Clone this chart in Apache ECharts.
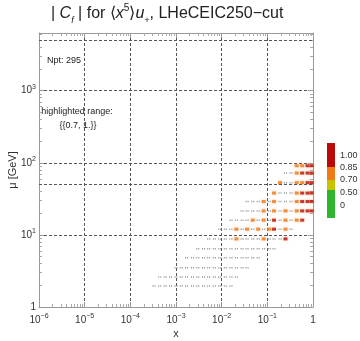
<!DOCTYPE html>
<html>
<head>
<meta charset="utf-8">
<script src="https://cdn.jsdelivr.net/npm/echarts@6/dist/echarts.min.js"></script>
<style>
  html, body { margin: 0; padding: 0; background: #fff; }
  #chart { width: 360px; height: 341px; }
</style>
</head>
<body>
<div id="chart"></div>
<script>
// x bins (one per column of points)
var xBins = [0.00033, 0.00044, 0.00058, 0.00076, 0.0010, 0.0013, 0.0017, 0.0023, 0.0030, 0.0040,
             0.0052, 0.0069, 0.0091, 0.012, 0.016, 0.021, 0.028, 0.036, 0.048, 0.063,
             0.083, 0.11, 0.14, 0.19, 0.25, 0.33, 0.44, 0.58, 0.76, 0.93];
// mu of every row (GeV), top to bottom
var muRows = [91, 72, 53, 38, 29, 21.5, 16, 12, 8.8, 6.4, 4.8, 3.5, 2.6, 1.96];
// first x bin of every row
var rowStart = [26, 24, 23, 22, 17, 16, 14, 12, 10, 8, 6, 4, 1, 0];
// |C_f| of the points in every row
var rowCf = [
  [0.78, 0.84, 0.92, 0.96],
  [0.40, 0.55, 0.76, 0.86, 0.93, 0.97],
  [0.72, 0.45, 0.60, 0.78, 0.83, 0.91, 0.96],
  [0.74, 0.50, 0.40, 0.60, 0.80, 0.88, 0.93, 0.97],
  [0.30, 0.40, 0.50, 0.75, 0.45, 0.78, 0.50, 0.55, 0.62, 0.80, 0.89, 0.94, 0.97],
  [0.30, 0.35, 0.45, 0.50, 0.74, 0.50, 0.79, 0.55, 0.82, 0.60, 0.81, 0.90, 0.93, 0.96],
  [0.30, 0.40, 0.45, 0.50, 0.76, 0.50, 0.79, 0.55, 0.88, 0.60, 0.80, 0.60, 0.82, 0.90],
  [0.30, 0.40, 0.50, 0.74, 0.50, 0.78, 0.55, 0.80, 0.60, 0.80, 0.88, 0.60, 0.79, 0.50],
  [0.30, 0.35, 0.40, 0.45, 0.50, 0.73, 0.50, 0.55, 0.60, 0.50, 0.77, 0.55, 0.60, 0.50, 0.87],
  [0.20, 0.25, 0.30, 0.30, 0.35, 0.40, 0.40, 0.45, 0.50, 0.50, 0.55, 0.60, 0.55, 0.60, 0.50],
  [0.20, 0.20, 0.25, 0.30, 0.30, 0.35, 0.40, 0.40, 0.45, 0.50, 0.50, 0.55, 0.50, 0.45],
  [0.15, 0.20, 0.20, 0.25, 0.30, 0.30, 0.35, 0.40, 0.40, 0.45, 0.50, 0.45, 0.40, 0.35],
  [0.10, 0.15, 0.20, 0.20, 0.25, 0.30, 0.30, 0.35, 0.40, 0.40, 0.45, 0.40, 0.35, 0.30, 0.25],
  [0.10, 0.10, 0.15, 0.20, 0.20, 0.25, 0.30, 0.30, 0.35, 0.35, 0.40, 0.35, 0.30, 0.25, 0.20]
];
var hiRange = [0.7, 1.0];
var cutLevels = [0, 0.5, 0.7, 0.85, 1.0];
var cutLabels = ['0', '0.50', '0.70', '0.85', '1.00'];
var cutColors = ['#2db52d', '#c9c200', '#ee7a1a', '#bb0a0a'];
var extraMu = [50, 5000];

var FONT = 'Liberation Sans';

var grayPts = [], hiPts = [];
for (var r = 0; r < muRows.length; r++) {
  for (var k = 0; k < rowCf[r].length; k++) {
    var p = [xBins[rowStart[r] + k], muRows[r], rowCf[r][k]];
    if (p[2] >= hiRange[0] && p[2] <= hiRange[1]) hiPts.push(p); else grayPts.push(p);
  }
}

function cfColor(v) {
  for (var i = cutColors.length - 1; i >= 0; i--) {
    if (v >= cutLevels[i]) return cutColors[i];
  }
  return cutColors[0];
}

function powLabel(v) {
  var e = Math.round(Math.log(v) / Math.LN10);
  if (Math.abs(Math.log(v) / Math.LN10 - e) > 1e-6) return '';
  if (e === 0) return '{b|1}';
  return '{b|10}{s|' + String(e).replace('-', '\u2212') + '}';
}

var labelRich = {
  b: { fontSize: 10, fontFamily: FONT, color: '#333', lineHeight: 15 },
  s: { fontSize: 7, fontFamily: FONT, color: '#333', verticalAlign: 'top', lineHeight: 15 }
};

var frameLine = { show: true, lineStyle: { color: '#999', width: 1 } };
var gridLine = { show: true, lineStyle: { color: '#555', width: 1, type: [3, 2] } };
var inTick = { show: true, inside: true, length: 5, lineStyle: { color: '#999' } };
var inMinor = { show: true, splitNumber: 9, length: 3, lineStyle: { color: '#aaa' } };

var chart = echarts.init(document.getElementById('chart'));

// legend bar
var barTop = [143, 167, 180, 190];
var barBottom = [167, 180, 190, 218];
var labelY = [206, 193, 180, 168, 156];
var graphics = [];
for (var i = 0; i < cutColors.length; i++) {
  graphics.push({ type: 'rect', shape: { x: 327, y: barTop[3 - i], width: 8, height: barBottom[3 - i] - barTop[3 - i] },
    style: { fill: cutColors[i] }, silent: true });
}
for (var j = 0; j < cutLabels.length; j++) {
  graphics.push({ type: 'text', x: 340, y: labelY[j],
    style: { text: cutLabels[j], font: '9px ' + FONT, fill: '#333', textVerticalAlign: 'middle' } });
}
graphics.push({ type: 'text', x: 47, y: 61, style: { text: 'Npt: 295', font: '9px ' + FONT, fill: '#222', textVerticalAlign: 'middle' } });
graphics.push({ type: 'text', x: 77, y: 112, style: { text: 'highlighted range:', font: '9px ' + FONT, fill: '#222', textAlign: 'center', textVerticalAlign: 'middle' } });
graphics.push({ type: 'text', x: 78, y: 126, style: { text: '{{0.7, 1.}}', font: '9px ' + FONT, fill: '#222', textAlign: 'center', textVerticalAlign: 'middle' } });

var option = {
  animation: false,
  title: {
    text: '{n|| }{i|C}{sub|f}{n| | for \u27e8}{i|x}{sup|5}{n|\u27e9}{i|u}{sub|+}{n|, LHeCEIC250\u2212cut}',
    left: 46,
    top: -2,
    textStyle: {
      fontWeight: 'normal',
      rich: {
        n: { fontSize: 16, fontFamily: FONT, color: '#222', fontWeight: 'normal', lineHeight: 22 },
        i: { fontSize: 16, fontFamily: FONT, color: '#222', fontWeight: 'normal', fontStyle: 'italic', lineHeight: 22 },
        sup: { fontSize: 10, fontFamily: FONT, color: '#222', fontWeight: 'normal', verticalAlign: 'top', lineHeight: 22 },
        sub: { fontSize: 9, fontFamily: FONT, color: '#222', fontWeight: 'normal', fontStyle: 'italic', verticalAlign: 'bottom', lineHeight: 18 }
      }
    }
  },
  grid: { left: 39, right: 47, top: 33, bottom: 34, outerBoundsMode: 'none' },
  xAxis: [{
    type: 'log', logBase: 10, min: 1e-6, max: 1,
    name: 'x', nameLocation: 'middle', nameGap: 21, nameMoveOverlap: false,
    nameTextStyle: { fontSize: 11, fontFamily: FONT, color: '#333' },
    axisLine: frameLine, axisTick: inTick, minorTick: inMinor,
    splitLine: gridLine,
    axisLabel: { formatter: powLabel, rich: labelRich, margin: 6 }
  }, {
    type: 'log', logBase: 10, min: 1e-6, max: 1, position: 'top',
    axisLine: frameLine, axisTick: inTick, minorTick: inMinor,
    splitLine: { show: false }, axisLabel: { show: false }
  }],
  yAxis: [{
    type: 'log', logBase: 10, min: 1, max: 6300,
    name: '\u03bc [GeV]', nameLocation: 'middle', nameGap: 21, nameRotate: 90, nameMoveOverlap: false,
    nameTextStyle: { fontSize: 11, fontFamily: FONT, color: '#333' },
    axisLine: frameLine, axisTick: inTick, minorTick: inMinor,
    splitLine: gridLine,
    axisLabel: { formatter: powLabel, rich: labelRich, margin: 3 }
  }, {
    type: 'log', logBase: 10, min: 1, max: 6300, position: 'right',
    axisLine: frameLine, axisTick: inTick, minorTick: inMinor,
    splitLine: { show: false }, axisLabel: { show: false }
  }],
  graphic: graphics,
  series: [{
    type: 'scatter',
    name: 'other',
    data: grayPts,
    symbol: 'path://M0,0h1v1h-1z M2,0h1v1h-1z',
    symbolSize: [3, 1.5],
    itemStyle: { color: '#777' },
    silent: true,
    markLine: {
      silent: true, symbol: 'none', label: { show: false },
      lineStyle: { color: '#555', width: 1, type: [3, 2] },
      data: extraMu.map(function (m) { return { yAxis: m }; })
    }
  }, {
    type: 'scatter',
    name: 'highlighted',
    data: hiPts,
    symbol: 'rect',
    symbolSize: [4, 3],
    itemStyle: {
      color: function (p) { return cfColor(p.value[2]); },
      shadowBlur: 3,
      shadowColor: 'rgba(245,150,70,0.7)'
    },
    silent: true
  }]
};

chart.setOption(option);
</script>
</body>
</html>
